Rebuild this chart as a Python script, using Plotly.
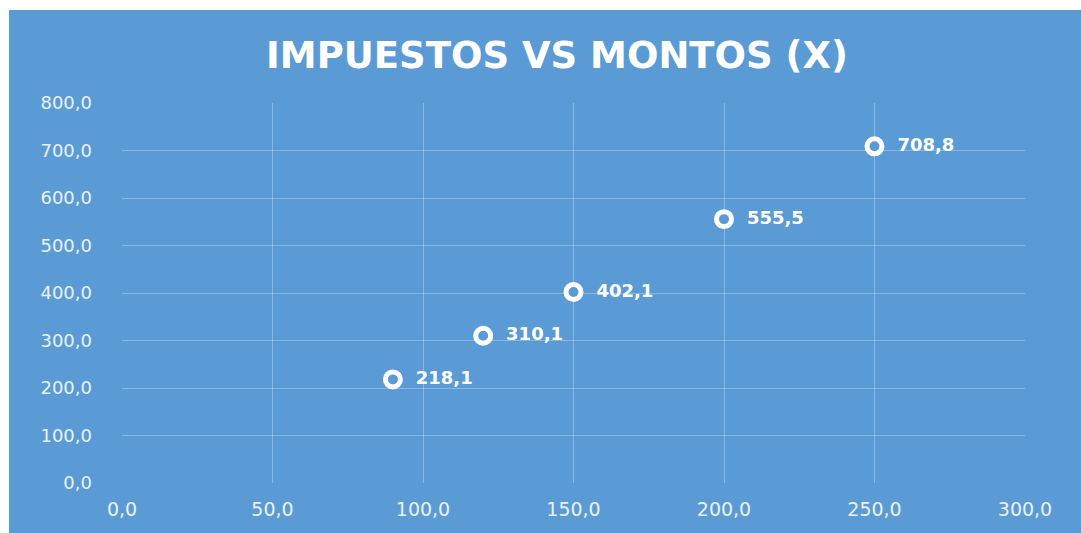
import plotly.graph_objects as go

montos = [90, 120, 150, 200, 250]
impuestos = [218.1, 310.1, 402.1, 555.5, 708.8]
title_text = "IMPUESTOS VS MONTOS (X)"

BLUE = "#5B9BD5"
GRID = "rgba(255,255,255,0.28)"
TICK = "#EAF1F8"

W, H = 1081, 533
L, R, T, B = 122, 1025, 103, 483
pw, ph = R - L, B - T

fig = go.Figure()
fig.add_trace(go.Scatter(
    x=montos, y=impuestos,
    mode="markers+text",
    marker=dict(symbol="circle", size=15, color=BLUE,
                line=dict(color="white", width=5)),
    text=impuestos,
    texttemplate="  %{y:.1f}",
    textposition="middle right",
    textfont=dict(family="DejaVu Sans", size=18, color="white", weight="bold"),
    cliponaxis=False,
    showlegend=False,
    hoverinfo="skip",
))

fig.add_shape(type="rect", xref="paper", yref="paper", layer="below",
              x0=(9 - L) / pw, x1=(W + 5 - L) / pw,
              y0=(B - H - 5) / ph, y1=(B - 10) / ph,
              fillcolor=BLUE, line=dict(width=0))

fig.update_layout(
    width=W, height=H,
    margin=dict(l=L, r=W - R, t=T, b=H - B, pad=0),
    paper_bgcolor="white",
    plot_bgcolor=BLUE,
    separators=",.",
    title=dict(text=title_text, x=557 / W, xanchor="center",
               y=1 - 55 / H, yanchor="middle", yref="container",
               font=dict(family="DejaVu Sans", size=37, color="white", weight="bold")),
    xaxis=dict(range=[0, 300], dtick=50, tickformat=".1f",
               showgrid=True, gridcolor=GRID, gridwidth=1,
               zeroline=False, showline=False, automargin=False,
               ticks="", ticklabelstandoff=13,
               tickfont=dict(family="DejaVu Sans", size=19, color=TICK)),
    yaxis=dict(range=[0, 800], dtick=100, tickformat=".1f",
               showgrid=True, gridcolor=GRID, gridwidth=1,
               zeroline=False, showline=False, automargin=False,
               ticks="", ticklabelstandoff=29,
               tickfont=dict(family="DejaVu Sans", size=18, color=TICK)),
)

fig.write_html(
    "out.html",
    config={"displayModeBar": False},
    post_script="document.body.style.margin='0';document.body.style.overflow='hidden';",
)
